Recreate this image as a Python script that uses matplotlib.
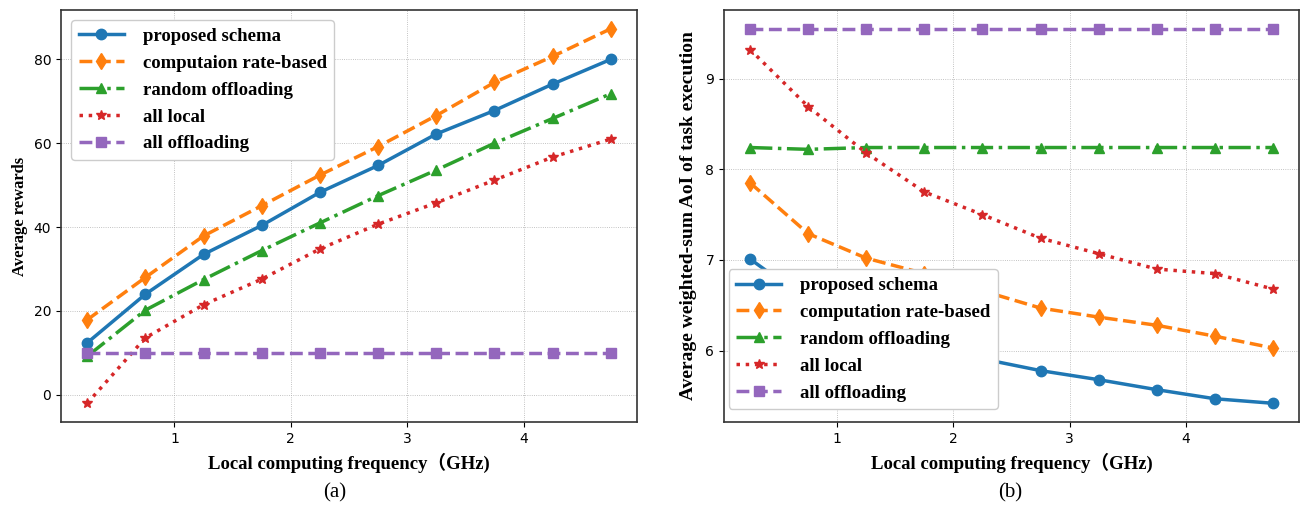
import numpy as np
import matplotlib
matplotlib.use('Agg')
import matplotlib.pyplot as plt

# local computing frequency (GHz)
freq = [0.25, 0.75, 1.25, 1.75, 2.25, 2.75, 3.25, 3.75, 4.25, 4.75]

# (a) average rewards
rew_proposed = [12.4, 24.0, 33.5, 40.4, 48.3, 54.7, 62.2, 67.8, 74.1, 80.0]
rew_rate = [17.9, 28.0, 37.9, 45.1, 52.4, 59.2, 66.6, 74.5, 80.7, 87.3]
rew_random = [9.2, 20.2, 27.5, 34.4, 41.0, 47.5, 53.6, 60.0, 65.9, 71.8]
rew_local = [-2.0, 13.6, 21.5, 27.6, 34.8, 40.7, 45.8, 51.2, 56.7, 61.0]
rew_offload = [10.0] * 10

# (b) average weighted-sum AoI
aoi_proposed = [7.01, 6.55, 6.28, 6.08, 5.91, 5.78, 5.68, 5.57, 5.47, 5.42]
aoi_rate = [7.85, 7.29, 7.02, 6.85, 6.66, 6.47, 6.37, 6.28, 6.16, 6.03]
aoi_random = [8.24, 8.22, 8.24, 8.24, 8.24, 8.24, 8.24, 8.24, 8.24, 8.24]
aoi_local = [9.32, 8.69, 8.18, 7.75, 7.50, 7.24, 7.07, 6.90, 6.85, 6.68]
aoi_offload = [9.55] * 10

names_a = ['proposed schema', 'computaion rate-based', 'random offloading',
           'all local', 'all offloading']
names_b = ['proposed schema', 'computation rate-based', 'random offloading',
           'all local', 'all offloading']

styles = [
    dict(color='#1f77b4', linestyle='-', marker='o', markersize=7.5),
    dict(color='#ff7f0e', linestyle='--', marker='d', markersize=8),
    dict(color='#2ca02c', linestyle='-.', marker='^', markersize=7.5),
    dict(color='#d62728', linestyle=':', marker='*', markersize=7.5),
    dict(color='#9467bd', linestyle='--', marker='s', markersize=7.5),
]

xlab_font = dict(family=['Liberation Serif', 'Noto Sans CJK SC'], weight='bold', size=13.5)

fig = plt.figure(figsize=(13.02, 5.08), dpi=100)
ax1 = fig.add_axes([61 / 1302, 86 / 508, 576 / 1302, 412 / 508])
ax2 = fig.add_axes([724 / 1302, 86 / 508, 575 / 1302, 412 / 508])


def draw(ax, series, names):
    for ys, name, st in zip(series, names, styles):
        ax.plot(freq, ys, label=name, linewidth=2.5, **st)
    ax.grid(True, linestyle=':', linewidth=0.6, color='#b0b0b0')
    ax.set_xticks([1, 2, 3, 4])
    ax.tick_params(labelsize=10)
    for s in ax.spines.values():
        s.set_color('#333333')
        s.set_linewidth(1.2)
    ax.set_xlabel('Local computing frequency（GHz)', fontdict=xlab_font, labelpad=5)


draw(ax1, [rew_proposed, rew_rate, rew_random, rew_local, rew_offload], names_a)
draw(ax2, [aoi_proposed, aoi_rate, aoi_random, aoi_local, aoi_offload], names_b)

ax1.set_ylabel('Average rewards', family='Liberation Serif', weight='bold', size=12)
ax2.set_ylabel('Average weighted-sum AoI of task execution', family='Liberation Serif',
               weight='bold', size=14, labelpad=6)
ax1.set_yticks([0, 20, 40, 60, 80])
ax2.set_yticks([6, 7, 8, 9])

leg_font = dict(family='Liberation Serif', weight='bold', size=13.5)
ax1.legend(loc='upper left', prop=leg_font, handlelength=2.4, labelspacing=0.52,
           borderaxespad=0.55, handletextpad=1.0, framealpha=1)
ax2.legend(loc='lower left', prop=leg_font, handlelength=2.4, labelspacing=0.52,
           bbox_to_anchor=(0.0, 0.02), borderaxespad=0.25, handletextpad=1.0,
           framealpha=1)

fig.text(335 / 1302, 1 - 493 / 508, '(a)', ha='center', va='center',
         family='Liberation Serif', size=15)
fig.text(1010 / 1302, 1 - 493 / 508, '(b)', ha='center', va='center',
         family='Liberation Serif', size=15)

fig.savefig('out.png', dpi=100)
